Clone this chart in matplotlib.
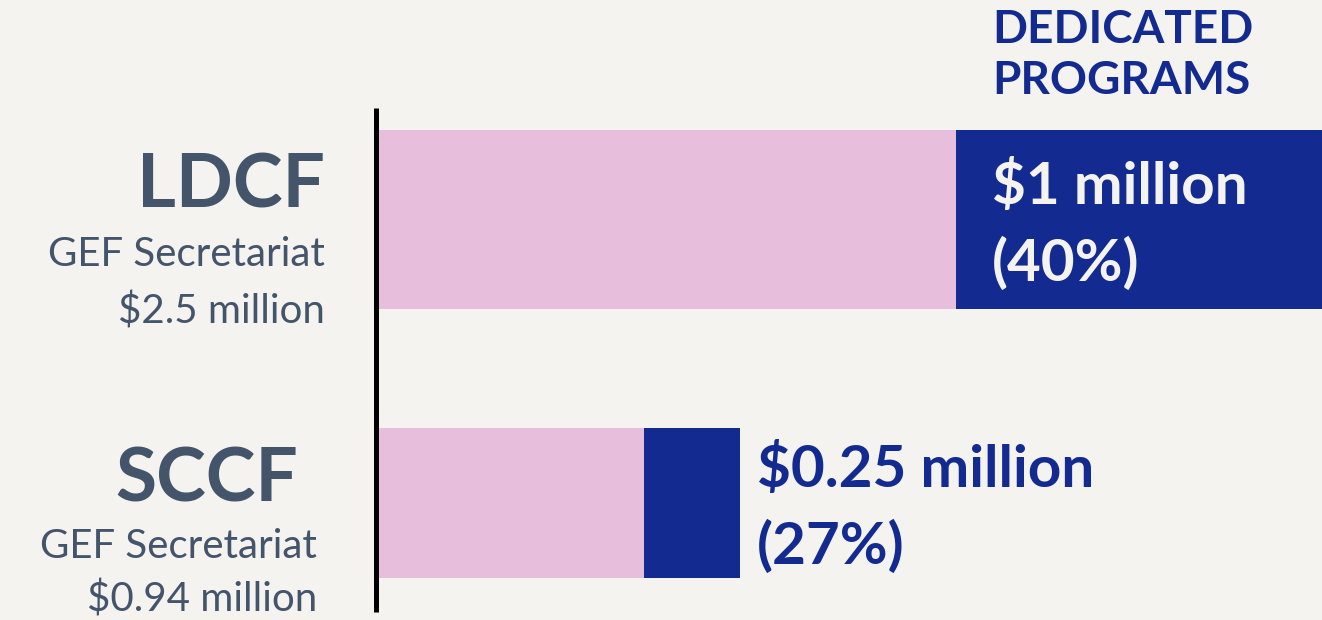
import matplotlib
matplotlib.use("Agg")
import matplotlib.pyplot as plt

# ---- data ----
funds = ["LDCF", "SCCF"]
managers = ["GEF Secretariat", "GEF Secretariat"]
totals = [2.5, 0.94]            # $ million
dedicated = [1.0, 0.25]         # $ million
shares = ["40%", "27%"]
total_labels = ["$2.5 million", "$0.94 million"]
dedicated_labels = ["$1 million", "$0.25 million"]
header = "DEDICATED\nPROGRAMS"

# ---- style ----
BG = "#F4F3EF"
PINK = "#E7BEDB"
BLUE = "#132B91"
SLATE = "#44546A"
FONT = ["Lato", "DejaVu Sans"]

W, H = 1322, 620
DPI = 100
fig = plt.figure(figsize=(W / DPI, H / DPI), dpi=DPI, facecolor=BG)

def fx(x):
    return x / W

def fy(y):
    return 1 - y / H

# bar axes: x origin at pixel 378, 385 px per $ million
x0 = 378
scale = 385.0
ax = fig.add_axes([fx(x0), 0, (W - x0) / W, 1])
ax.set_facecolor("none")
ax.set_xlim(0, (W - x0) / scale)
unit = 283.5  # px between bar centres
top_c = 219.5
ax.set_ylim((H - top_c) / unit, -top_c / unit)
ax.axis("off")

ypos = [0, 1]
heights = [179 / unit, 150 / unit]
rest = [t - d for t, d in zip(totals, dedicated)]
ax.barh(ypos, rest, height=heights, color=PINK, left=0, linewidth=0)
ax.barh(ypos, dedicated, height=heights, color=BLUE, left=rest, linewidth=0)

# vertical axis line
ax.vlines(-2.5 / scale, (108 - top_c) / unit, (612 - top_c) / unit,
          color="black", linewidth=5 * 72 / DPI, clip_on=False)

# left labels
left_cfg = [
    dict(name_x=325, name_y=207, sub_x=325, sub_y1=266, sub_y2=323),
    dict(name_x=298, name_y=502, sub_x=317, sub_y1=558, sub_y2=612),
]
for i, cfg in enumerate(left_cfg):
    fig.text(fx(cfg["name_x"]), fy(cfg["name_y"]), funds[i], ha="right", va="baseline",
             fontsize=54, fontweight="bold", color=SLATE, family=FONT)
    fig.text(fx(cfg["sub_x"]), fy(cfg["sub_y1"]), managers[i], ha="right", va="baseline",
             fontsize=29, color=SLATE, family=FONT)
    fig.text(fx(cfg["sub_x"]), fy(cfg["sub_y2"]), total_labels[i], ha="right", va="baseline",
             fontsize=29, color=SLATE, family=FONT)

# header
h1, h2 = header.split("\n")
fig.text(fx(992), fy(43), h1, ha="left", va="baseline", fontsize=33,
         fontweight="bold", color=BLUE, family=FONT)
fig.text(fx(992), fy(94), h2, ha="left", va="baseline", fontsize=33,
         fontweight="bold", color=BLUE, family=FONT)

# value labels
fig.text(fx(992), fy(204), dedicated_labels[0], ha="left", va="baseline", fontsize=42,
         fontweight="bold", color=BG, family=FONT)
fig.text(fx(992), fy(281), "(" + shares[0] + ")", ha="left", va="baseline", fontsize=42,
         fontweight="bold", color=BG, family=FONT)
fig.text(fx(757), fy(487), dedicated_labels[1], ha="left", va="baseline", fontsize=42,
         fontweight="bold", color=BLUE, family=FONT)
fig.text(fx(757), fy(564), "(" + shares[1] + ")", ha="left", va="baseline", fontsize=42,
         fontweight="bold", color=BLUE, family=FONT)

fig.savefig("out.png", dpi=DPI, facecolor=BG)
